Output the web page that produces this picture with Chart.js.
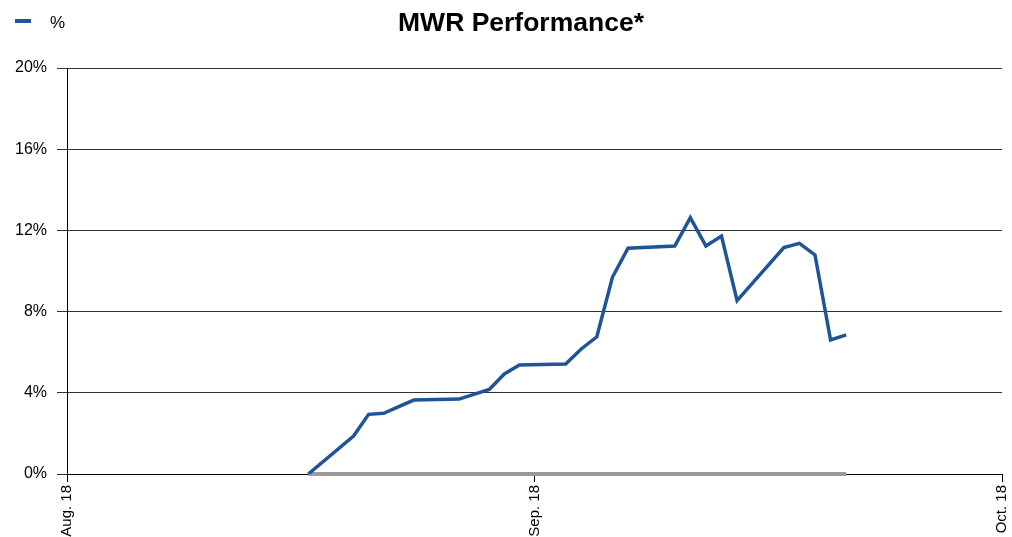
<!DOCTYPE html>
<html>
<head>
<meta charset="utf-8">
<script src="https://cdn.jsdelivr.net/npm/chart.js@4/dist/chart.umd.min.js"></script>
<style>
    html, body { margin: 0; padding: 0; background: #fff; }
    #wrap { width: 1012px; height: 537px; position: relative; }
</style>
</head>
<body>
<div id="wrap"><canvas id="chart"></canvas></div>
<script>
// dates of the observations (month-day) and MWR performance in %
const dates = ['09-03', '09-06', '09-07', '09-08', '09-09', '09-10', '09-13', '09-15', '09-16', '09-17',
               '09-20', '09-21', '09-22', '09-23', '09-24', '09-27', '09-28', '09-29', '09-30',
               '10-01', '10-04', '10-05', '10-06', '10-07', '10-08'];
const mwr = [0, 1.87, 2.94, 2.99, 3.32, 3.64, 3.69, 4.17, 4.93, 5.37,
             5.42, 6.16, 6.76, 9.69, 11.12, 11.23, 12.63, 11.23, 11.72,
             8.54, 11.15, 11.36, 10.79, 6.6, 6.85];
const baseline = [0, 0, 0, 0, 0, 0, 0, 0, 0, 0,
                  0, 0, 0, 0, 0, 0, 0, 0, 0,
                  0, 0, 0, 0, 0, 0];
const xTickLabels = ['Aug. 18', 'Sep. 18', 'Oct. 18'];
const yTicks = [0, 4, 8, 12, 16, 20];

const FONT = "'Liberation Sans', Arial, sans-serif";

// months are drawn with equal width: Aug.18 = 0, Sep.18 = 1, Oct.18 = 2
function monthPos(md) {
    const [m, d] = md.split('-').map(Number);
    if (m === 8) return (d - 18) / 31;
    if (m === 9) return d >= 18 ? 1 + (d - 18) / 30 : (d + 13) / 31;
    return 1 + (d + 12) / 30;
}

const blueData = dates.map((d, i) => ({ x: monthPos(d), y: mwr[i] }));
const grayData = dates.map((d, i) => ({ x: monthPos(d), y: baseline[i] }));

// title and legend on one line, like the original
const headerPlugin = {
    id: 'header',
    afterDraw(chart) {
        const ctx = chart.ctx;
        ctx.save();
        ctx.fillStyle = '#000';
        ctx.font = 'bold 26.5px ' + FONT;
        ctx.textAlign = 'center';
        ctx.textBaseline = 'middle';
        ctx.fillText('MWR Performance*', 521, 24);

        const ds = chart.data.datasets[0];
        ctx.fillStyle = ds.borderColor;
        ctx.fillRect(15, 19, 16, 4);
        ctx.fillStyle = '#000';
        ctx.font = '17px ' + FONT;
        ctx.textAlign = 'left';
        ctx.fillText(ds.label, 50, 23);
        ctx.restore();
    }
};

const ctx = document.getElementById('chart').getContext('2d');
const myChart = new Chart(ctx, {
    type: 'line',
    data: {
        datasets: [{
            label: '%',
            data: blueData,
            borderColor: '#1f5597',
            borderWidth: 3.5,
            pointRadius: 0,
            tension: 0,
            borderJoinStyle: 'miter'
        }, {
            label: '',
            data: grayData,
            borderColor: '#9a9a9a',
            borderWidth: 4,
            pointRadius: 0,
            clip: false
        }]
    },
    options: {
        responsive: true,
        maintainAspectRatio: false,
        animation: false,
        layout: {
            padding: { top: 68, right: 10, left: 0, bottom: 0 }
        },
        plugins: {
            legend: { display: false },
            title: { display: false },
            tooltip: { enabled: false }
        },
        scales: {
            x: {
                type: 'linear',
                min: 0,
                max: 2,
                afterBuildTicks: scale => {
                    scale.ticks = xTickLabels.map((l, i) => ({ value: i }));
                },
                afterFit: scale => {
                    scale.height = 63;
                    scale.paddingLeft = 0;
                    scale.paddingRight = 0;
                },
                ticks: {
                    callback: (value, index) => xTickLabels[index],
                    minRotation: 90,
                    maxRotation: 90,
                    padding: 3,
                    color: '#000',
                    font: { family: FONT, size: 15 }
                },
                grid: {
                    drawOnChartArea: false,
                    drawTicks: true,
                    tickLength: 8,
                    color: '#000'
                },
                border: { display: true, color: '#000', width: 1 }
            },
            y: {
                min: 0,
                max: 20,
                afterBuildTicks: scale => {
                    scale.ticks = yTicks.map(v => ({ value: v }));
                },
                afterFit: scale => {
                    scale.width = 67;
                    scale.paddingTop = 0;
                    scale.paddingBottom = 0;
                },
                ticks: {
                    callback: value => value + '%',
                    padding: 10,
                    color: '#000',
                    font: { family: FONT, size: 16 }
                },
                grid: {
                    color: '#333',
                    lineWidth: 1,
                    tickLength: 10
                },
                border: { display: true, color: '#000', width: 1 }
            }
        }
    },
    plugins: [headerPlugin]
});
</script>
</body>
</html>
